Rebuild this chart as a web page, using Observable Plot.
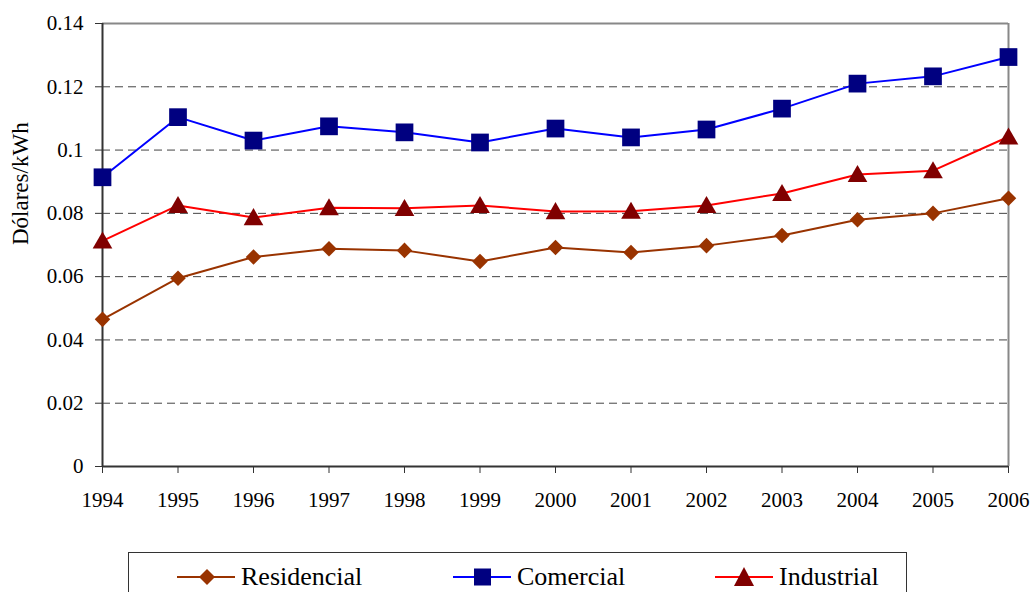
<!DOCTYPE html>
<html>
<head>
<meta charset="utf-8">
<script src="https://cdn.jsdelivr.net/npm/d3@7"></script>
<script src="https://cdn.jsdelivr.net/npm/@observablehq/plot@0.6"></script>
<style>
  html, body { margin: 0; padding: 0; background: #fff; }
  #wrap { position: relative; width: 1034px; height: 592px; overflow: hidden; font-family: "Liberation Serif", "LiberationSerif", Tinos, "Times New Roman", Times, "DejaVu Serif", "Noto Serif", serif; }
  #wrap svg, #wrap svg text { font-family: "Liberation Serif", "LiberationSerif", Tinos, "Times New Roman", Times, "DejaVu Serif", "Noto Serif", serif !important; }
  #legend { position: absolute; left: 128px; top: 552px; width: 779px; height: 60px; border: 1px solid #333; box-sizing: border-box; background: #fff; }
  .item { position: absolute; top: 9px; height: 30px; display: flex; align-items: center; }
  .item svg { display: block; }
  .item span { font-size: 26px; color: #000; margin-left: 4px; line-height: 30px; }
</style>
</head>
<body>
<div id="wrap"></div>
<script>
const years = [1994, 1995, 1996, 1997, 1998, 1999, 2000, 2001, 2002, 2003, 2004, 2005, 2006];
const residencial = [0.0465, 0.0595, 0.0662, 0.0688, 0.0683, 0.0648, 0.0692, 0.0676, 0.0698, 0.0730, 0.0780, 0.0800, 0.0848];
const comercial   = [0.0914, 0.1104, 0.1030, 0.1075, 0.1056, 0.1024, 0.1068, 0.1040, 0.1065, 0.1131, 0.1210, 0.1233, 0.1294];
const industrial  = [0.0713, 0.0825, 0.0787, 0.0818, 0.0816, 0.0825, 0.0806, 0.0807, 0.0825, 0.0863, 0.0923, 0.0935, 0.1042];
const seriesNames = ["Residencial", "Comercial", "Industrial"];
const yTicks = [0, 0.02, 0.04, 0.06, 0.08, 0.1, 0.12, 0.14];
const gridTicks = [0.02, 0.04, 0.06, 0.08, 0.1, 0.12];
const yLabel = "Dólares/kWh";

const toRows = vals => years.map((yr, i) => ({year: yr, value: vals[i]}));
const rRes = toRows(residencial), rCom = toRows(comercial), rInd = toRows(industrial);

const fmtY = d => d === 0 ? "0" : String(+d.toFixed(2));
const serif = "'Liberation Serif', 'LiberationSerif', Tinos, 'Times New Roman', Times, 'DejaVu Serif', 'Noto Serif', serif";

const chart = Plot.plot({
  width: 1034,
  height: 592,
  marginTop: 23,
  marginRight: 26,
  marginBottom: 126,
  marginLeft: 102,
  style: {fontFamily: serif, fontSize: "21px", color: "#000", background: "#fff"},
  x: {domain: [1994, 2006]},
  y: {domain: [0, 0.14]},
  marks: [
    Plot.ruleY(gridTicks, {stroke: "#444", strokeDasharray: "8,5", strokeWidth: 1}),
    Plot.ruleY([0.14], {stroke: "#888", strokeWidth: 2}),
    Plot.ruleX([2006], {stroke: "#888", strokeWidth: 2}),
    Plot.ruleX([1994], {stroke: "#333", strokeWidth: 2}),
    Plot.ruleY([0], {stroke: "#333", strokeWidth: 2}),
    Plot.axisX({ticks: years, tickFormat: d => String(d), tickSize: 7, tickPadding: 19, fontSize: 21, stroke: "#333", label: null}),
    Plot.axisY({ticks: yTicks, tickFormat: fmtY, tickSize: 7, tickPadding: 12, fontSize: 21, stroke: "#333", label: null}),
    Plot.text([yLabel], {frameAnchor: "left", rotate: -90, dx: -82, fontSize: 23, fill: "#000"}),
    Plot.line(rRes, {x: "year", y: "value", stroke: "#993300", strokeWidth: 2}),
    Plot.line(rCom, {x: "year", y: "value", stroke: "#0000ff", strokeWidth: 2}),
    Plot.line(rInd, {x: "year", y: "value", stroke: "#ff0000", strokeWidth: 2}),
    Plot.dot(rRes, {x: "year", y: "value", symbol: "diamond2", r: 7, fill: "#993300", stroke: "none"}),
    Plot.dot(rCom, {x: "year", y: "value", symbol: "square", r: 10, fill: "#000080", stroke: "none"}),
    Plot.dot(rInd, {x: "year", y: "value", symbol: "triangle", r: 7.3, fill: "#800000", stroke: "none", dy: 2})
  ]
});

const wrap = document.getElementById("wrap");
wrap.appendChild(chart);

// Legend
const legend = document.createElement("div");
legend.id = "legend";
const sw = {
  Residencial: `<svg width="60" height="24"><line x1="0" y1="12" x2="58" y2="12" stroke="#993300" stroke-width="2"/><polygon points="30,4 38,12 30,20 22,12" fill="#993300"/></svg>`,
  Comercial: `<svg width="60" height="24"><line x1="0" y1="12" x2="58" y2="12" stroke="#0000ff" stroke-width="2"/><rect x="21" y="3.5" width="17" height="17" fill="#000080"/></svg>`,
  Industrial: `<svg width="60" height="24"><line x1="0" y1="12" x2="58" y2="12" stroke="#ff0000" stroke-width="2"/><polygon points="29,2 39,21 19,21" fill="#800000"/></svg>`
};
const lefts = [48, 324, 586];
seriesNames.forEach((name, i) => {
  const it = document.createElement("div");
  it.className = "item";
  it.style.left = lefts[i] + "px";
  it.innerHTML = sw[name] + `<span>${name}</span>`;
  legend.appendChild(it);
});
wrap.appendChild(legend);
</script>
</body>
</html>
